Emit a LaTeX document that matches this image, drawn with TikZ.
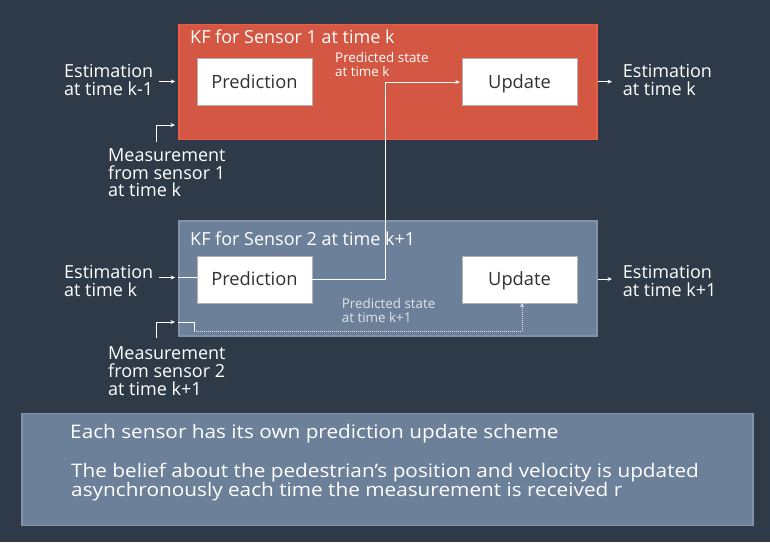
\documentclass[tikz,border=0pt]{standalone}
\usepackage{fontspec}
\setmainfont{Open Sans}
\usetikzlibrary{arrows.meta, calc}

\definecolor{bgnavy}{RGB}{46,58,72}
\definecolor{kfred}{RGB}{211,87,66}
\definecolor{kfredline}{RGB}{236,92,70}
\definecolor{kfblue}{RGB}{108,129,153}
\definecolor{kfblueline}{RGB}{128,147,170}
\definecolor{boxtext}{RGB}{48,48,48}
\definecolor{softwhite}{RGB}{222,228,236}

\begin{document}
\begin{tikzpicture}[x=1pt, y=-1pt, >={Stealth[length=4.5pt,width=4pt]},
    label text/.style={text=white, font=\fontsize{18}{17.6}\selectfont, align=left, inner sep=0pt, anchor=base west},
    small text/.style={font=\fontsize{13.4}{13.4}\selectfont, align=left, inner sep=0pt, anchor=base west},
    note text/.style={text=white, font=\fontsize{18.7}{19.4}\selectfont, align=left, inner sep=0pt, anchor=base west, transform shape, xscale=1.11},
    kf box/.style={line width=1.5pt, minimum width=418pt, minimum height=115pt, inner sep=0pt},
    block/.style={draw=gray!60, fill=white, text=boxtext, font=\fontsize{18.3}{20}\selectfont, text height=17pt, text depth=4pt, minimum width=115pt, minimum height=47pt, inner sep=0pt},
    flow/.style={->, white, line width=1pt},
    wire/.style={white, line width=1pt}]

    % Background
    \fill[bgnavy] (0,0) rectangle (770,542);
    \useasboundingbox (0,0) rectangle (770,542);

    % KF for sensor 1
    \node[kf box, fill=kfred, draw=kfredline] (kf1) at (388,82.2) {};
    \node[label text] (title1) at (190,43.3) {KF for Sensor 1 at time k};
    \node[block] (pred1) at (254.5,82) {Prediction};
    \node[block] (upd1) at (519.5,82) {Update};
    \node[small text, text=white] (ps1) at (335,76) {Predicted state\\at time k};

    % KF for sensor 2
    \node[kf box, fill=kfblue, draw=kfblueline] (kf2) at (388,278.4) {};
    \node[label text] (title2) at (190,245) {KF for Sensor 2 at time k+1};
    \node[block] (pred2) at (254.5,279.2) {Prediction};
    \node[block] (upd2) at (519.5,279.2) {Update};
    \node[small text, text=softwhite] (ps2) at (341.7,322) {Predicted state\\at time k+1};

    % Inputs and outputs (anchored at the last line)
    \node[label text] (est0) at (64,95.3) {Estimation\\at time k-1};
    \node[label text] (meas1) at (108,196.7) {Measurement\\from sensor 1\\at time k};
    \node[label text] (est1) at (622.7,95.3) {Estimation\\at time k};
    \node[label text] (est1b) at (64,296) {Estimation\\at time k};
    \node[label text] (meas2) at (108,395) {Measurement\\from sensor 2\\at time k+1};
    \node[label text] (est2) at (622.7,296) {Estimation\\at time k+1};

    \coordinate (in1) at (159,81.5);
    \coordinate (ms1) at (156,142);
    \coordinate (mt1) at (175,125);
    \coordinate (out1) at (612,81.7);
    \coordinate (in2) at (159,277.5);
    \coordinate (ms2) at (156,338);
    \coordinate (mt2) at (175,322);
    \coordinate (mk2) at (194,322.5);
    \coordinate (md2) at (194,331);
    \coordinate (out2) at (612,279);

    % Sensor 1 arrows
    \draw[flow, shorten >=3pt] (in1) -- (in1 -| kf1.west);
    \draw[flow] (ms1) |- (mt1);
    \draw[flow] (out1 -| kf1.east) -- (out1);

    % Prediction of sensor 2 feeds the update of sensor 1
    \draw[flow, shorten >=2pt] (pred2.east) -- ++(73.7,0) |- (upd1.west);

    % Sensor 2 arrows
    \draw[flow, shorten >=3pt] (in2) -- (in2 -| kf2.west);
    \draw[wire] (in2 -| kf2.west) -- (pred2.west |- in2);
    \draw[flow] (ms2) |- (mt2);
    \draw[wire] (mk2 -| kf2.west) -- (mk2) -- (md2);
    \draw[flow, softwhite, dash pattern=on 1pt off 1pt] (md2) -| ([xshift=2.5pt]upd2.south);
    \draw[flow] (out2 -| kf2.east) -- (out2);

    % Notes
    \node[fill=kfblue, draw=kfblueline, line width=1.5pt, minimum width=731pt, minimum height=112pt, inner sep=0pt] (note) at (387.5,469.5) {};
    \node[note text] (note1) at (70,438.3) {Each sensor has its own prediction update scheme};
    \node[note text] (note2) at (71,496.7) {The belief about the pedestrian’s position and velocity is updated\\asynchronously each time the measurement is received r};
\end{tikzpicture}
\end{document}
